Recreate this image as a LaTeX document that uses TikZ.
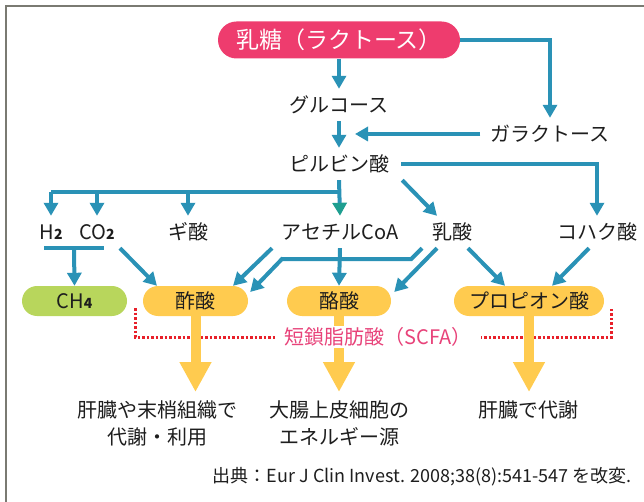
\documentclass[tikz,border=0pt]{standalone}
\usepackage{fontspec}
\setmainfont{Noto Sans CJK JP}
\usetikzlibrary{arrows.meta,calc}
\definecolor{arrblue}{HTML}{2A92B6}
\definecolor{tealg}{HTML}{1E9E90}
\definecolor{pinkbox}{HTML}{EE3C6E}
\definecolor{ylw}{HTML}{FFCB4F}
\definecolor{grn}{HTML}{B8D65C}
\definecolor{reddot}{HTML}{E8202A}
\definecolor{scfapink}{HTML}{E8437A}
\definecolor{textc}{HTML}{1E1E1E}
\definecolor{bordc}{HTML}{7A7A72}
\newcommand{\sbd}[1]{{\fontsize{14}{14}\selectfont\bfseries #1}}
\tikzset{
  txt/.style={inner sep=0pt, minimum height=32pt, text=textc, font=\fontsize{20}{24}\selectfont},
  box/.style={rounded corners=15pt, minimum height=30pt, inner sep=0pt, text=textc, font=\fontsize{20}{24}\selectfont},
  arr/.style={draw=arrblue, line width=4pt, -{Triangle[width=14pt,length=13pt]}},
  ln/.style={draw=arrblue, line width=4pt},
  yarr/.style={draw=ylw, line width=10pt, -{Triangle[width=30pt,length=30pt]}},
}
\begin{document}
\begin{tikzpicture}[x=1pt,y=-1pt]
\useasboundingbox (0,0) rectangle (644,502);
\draw[bordc, line width=1.5pt] (6,502) -- (6,6) -- (644,6);

% nodes
\node[fill=pinkbox, rounded corners=18.5pt, minimum width=242pt, minimum height=37pt, inner sep=0pt,
      text=white, font=\fontsize{23}{26}\selectfont] (lac) at (339,40) {乳糖（ラクトース）};
\node[txt] (glu) at (339,105) {グルコース};
\node[txt] (gal) at (550,134) {ガラクトース};
\node[txt] (pyr) at (339,164) {ピルビン酸};
\node[txt] (h2) at (51,232) {H\sbd{2}};
\node[txt] (co2) at (97,232) {CO\sbd{2}};
\node[txt] (gia) at (188,232) {ギ酸};
\node[txt] (acoa) at (340,232) {アセチルCoA};
\node[txt] (nyu) at (452,232) {乳酸};
\node[txt] (koh) at (597,232) {コハク酸};
\node[box, fill=grn, minimum width=105pt] (ch4) at (74.5,301) {CH\sbd{4}};
\node[box, fill=ylw, minimum width=105pt] (sak) at (195.5,301) {酢酸};
\node[box, fill=ylw, minimum width=104pt] (rak) at (339,301) {酪酸};
\node[box, fill=ylw, minimum width=150pt] (prop) at (529,301) {プロピオン酸};

% blue connectors
\draw[arr] (lac.south) -- (glu.north);
\draw[arr] (lac.east) -| (gal.north);
\coordinate (galtip) at (355,134);
\draw[arr] ([xshift=-10pt]gal.west) -- (galtip);
\draw[arr] (glu.south) -- (pyr.north);
\draw[arr] ([xshift=12pt]pyr.east) -| (koh.north);
\coordinate (br) at (339,192);
\draw[ln] (br) -- (h2.north |- br);
\draw[arr] (h2.north |- br) -- (h2.north);
\draw[arr] (co2.north |- br) -- (co2.north);
\draw[arr] (gia.north |- br) -- (gia.north);
\draw[draw=arrblue, line width=4pt, -{Triangle[width=14pt,length=13pt,color=tealg]}] (pyr.south) -- (acoa.north);
\draw[arr] ([xshift=13pt]pyr.south east) -- ([xshift=-15pt]nyu.north);

\draw[ln] ([xshift=-7pt]h2.south) -- ([xshift=7pt]co2.south);
\draw[arr] ($(h2.south)!0.5!(co2.south)$) -- (ch4.north);
\draw[arr] ([xshift=23pt]co2.south) -- ([xshift=-38.5pt]sak.north);
\draw[arr] ([xshift=-68pt]acoa.south) -- ([xshift=37.5pt]sak.north);
\draw[arr, line join=miter] ([xshift=-30pt]nyu.south) -- ++(-11,11) -- (282,259) -- ([xshift=2pt,yshift=9pt]sak.east);
\draw[arr] (acoa.south) -- (rak.north);
\draw[arr] ([xshift=-15pt]nyu.south) -- ([xshift=3pt,yshift=9pt]rak.east);
\draw[arr] ([xshift=16pt]nyu.south) -- ([xshift=-24pt]prop.north);
\draw[arr] ([xshift=-8pt]koh.south) -- ([xshift=23pt]prop.north);

% SCFA bracket
\draw[reddot, line width=3pt, dash pattern=on 2.5pt off 2pt] (135,308) -- (135,337) -- (611,337) -- (611,308);

% yellow arrows
\coordinate (y1) at (195.5,392);
\coordinate (y2) at (339,392);
\coordinate (y3) at (529,392);
\draw[yarr] (sak.south) -- (y1);
\draw[yarr] (rak.south) -- (y2);
\draw[yarr] (prop.south) -- (y3);

\node[fill=white, inner xsep=9pt, inner ysep=1pt, text=scfapink, font=\fontsize{20}{24}\selectfont] (scfa) at (378,337) {短鎖脂肪酸（SCFA）};

% bottom texts
\node[txt, align=center, font=\fontsize{20}{27}\selectfont] (t1) at (157,423.5) {肝臓や末梢組織で\\代謝・利用};
\node[txt, align=center, font=\fontsize{20}{27}\selectfont] (t2) at (339,423.5) {大腸上皮細胞の\\エネルギー源};
\node[txt] (t3) at (528,410) {肝臓で代謝};
\node[txt, anchor=east, font=\fontsize{18}{21}\selectfont] (src) at (632,477) {出典：Eur J Clin Invest. 2008;38(8):541-547 を改変.};
\end{tikzpicture}
\end{document}
